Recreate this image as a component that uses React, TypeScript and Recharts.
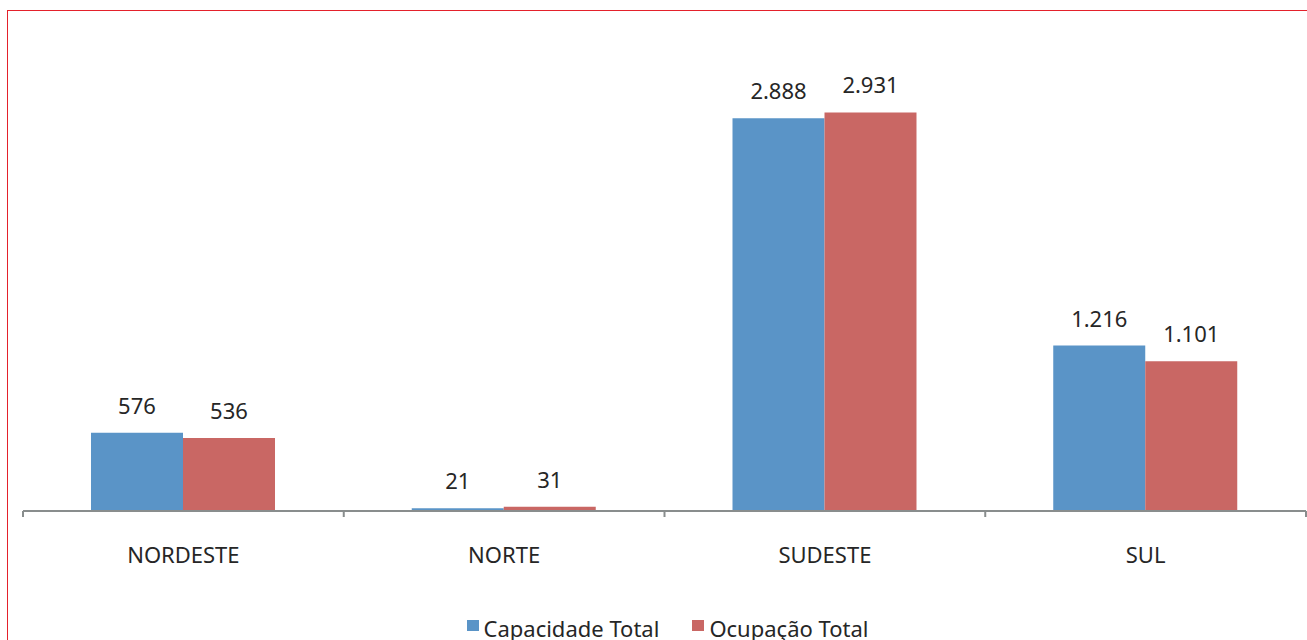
import React from 'react';
import { BarChart, Bar, XAxis, YAxis, Legend, LabelList } from 'recharts';

const regioes = ['NORDESTE', 'NORTE', 'SUDESTE', 'SUL'];
const capacidadeTotal = [576, 21, 2888, 1216];
const ocupacaoTotal = [536, 31, 2931, 1101];

const series = [
  { key: 'capacidade', name: 'Capacidade Total', color: '#5a94c7' },
  { key: 'ocupacao', name: 'Ocupação Total', color: '#c96764' },
];

const data = regioes.map((regiao, i) => ({
  regiao,
  capacidade: capacidadeTotal[i],
  ocupacao: ocupacaoTotal[i],
}));

const FONT = '"Noto Sans", sans-serif';
const TEXT = '#262626';
const AXIS = '#898d8d';
const TICK_MARGIN = 36;

const formatNumber = (v: number) => String(v).replace(/\B(?=(\d{3})+(?!\d))/g, '.');

const CategoryTick = (props: any) => {
  const { x, y, payload, index, visibleTicksCount } = props;
  const half = payload.offset ?? 0;
  const axisY = y - TICK_MARGIN;
  const isLast = index === visibleTicksCount - 1;
  return (
    <g>
      <line x1={x - half} x2={x - half} y1={axisY} y2={axisY + 6} stroke={AXIS} strokeWidth={2} />
      {isLast && (
        <line x1={x + half} x2={x + half} y1={axisY} y2={axisY + 6} stroke={AXIS} strokeWidth={2} />
      )}
      <text x={x} y={y} dy="0.71em" textAnchor="middle" fontSize={22} fill={TEXT} fontFamily={FONT}>
        {payload.value}
      </text>
    </g>
  );
};

const LegendContent = () => (
  <div
    style={{
      display: 'flex',
      justifyContent: 'center',
      alignItems: 'center',
      height: 30,
      marginTop: 3,
      paddingLeft: 6,
      fontFamily: FONT,
      fontSize: 22,
      color: TEXT,
      gap: 33,
    }}
  >
    {series.map((s) => (
      <div key={s.key} style={{ display: 'flex', alignItems: 'center' }}>
        <span style={{ width: 12, height: 11, background: s.color, marginRight: 5, marginTop: -5 }} />
        <span>{s.name}</span>
      </div>
    ))}
  </div>
);

export default function App() {
  return (
    <div style={{ position: 'fixed', left: 0, top: 0, width: 1307, height: 640, overflow: 'hidden', background: '#fff' }}>
      <style>{'html,body{overflow:hidden}'}</style>
      <div style={{ position: 'absolute', left: 0, top: 0 }}>
        <BarChart
          width={1307}
          height={640}
          data={data}
          margin={{ top: 35, right: 1, left: 23, bottom: 0 }}
          barCategoryGap="21.2%"
          barGap={0}
        >
          <XAxis
            dataKey="regiao"
            height={99}
            axisLine={{ stroke: AXIS, strokeWidth: 2 }}
            tickLine={false}
            tickSize={0}
            tickMargin={TICK_MARGIN}
            tick={<CategoryTick />}
            interval={0}
          />
          <YAxis hide domain={[0, 3500]} />
          <Legend verticalAlign="bottom" height={30} content={<LegendContent />} />
          {series.map((s) => (
            <Bar key={s.key} dataKey={s.key} name={s.name} fill={s.color} isAnimationActive={false}>
              <LabelList
                dataKey={s.key}
                position="top"
                offset={19}
                formatter={(v: any) => formatNumber(Number(v))}
                style={{ fontSize: 22, fill: TEXT, fontFamily: FONT }}
              />
            </Bar>
          ))}
        </BarChart>
      </div>
      <div
        style={{
          position: 'absolute',
          left: 7,
          top: 10,
          width: 1400,
          height: 700,
          border: '1px solid #e4212b',
          pointerEvents: 'none',
        }}
      />
    </div>
  );
}
